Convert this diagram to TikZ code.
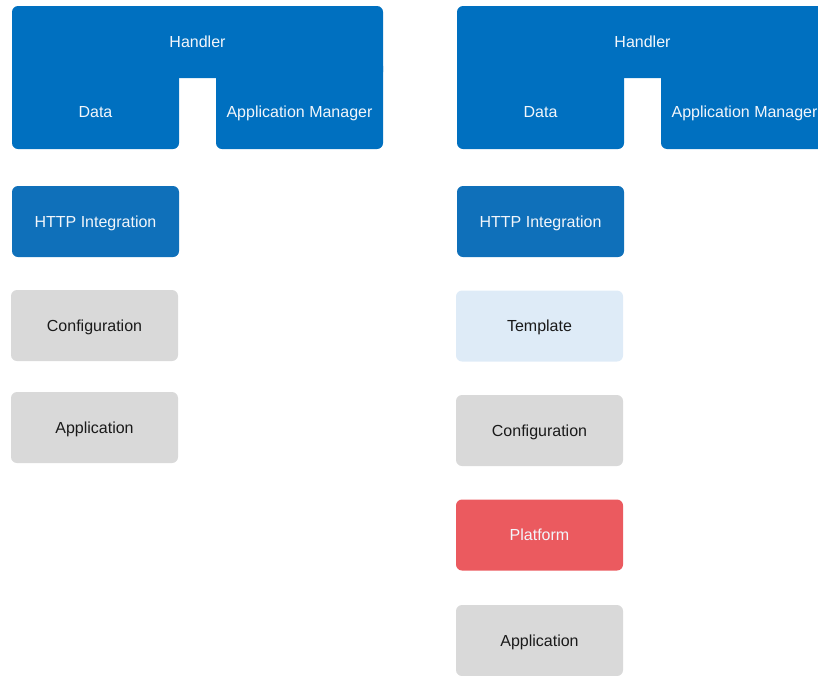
\documentclass[tikz,border=0pt]{standalone}
\usepackage{fontspec}
\setmainfont{Liberation Sans}
\definecolor{hblue}{HTML}{0070C0}
\definecolor{ibblue}{HTML}{0F70BA}
\definecolor{boxgray}{HTML}{D9D9D9}
\definecolor{tmpblue}{HTML}{DEEBF7}
\definecolor{platred}{HTML}{EB5A5F}
\definecolor{lighttxt}{HTML}{F2F6FB}
\definecolor{darktxt}{HTML}{1A1A1A}
\begin{document}
\begin{tikzpicture}[x=1pt,y=-1pt,
  every node/.style={font=\fontsize{16}{19}\selectfont, inner sep=0pt, text height=11.6pt, text depth=0pt},
  rc/.style={rounded corners=6pt},
  wtxt/.style={text=lighttxt},
  btxt/.style={text=darktxt},
  blk/.style={rectangle, rounded corners=6pt, minimum width=167pt, minimum height=71pt},
  bluebox/.style={blk, fill=ibblue, text=lighttxt},
  graybox/.style={blk, fill=boxgray, text=darktxt},
  tempbox/.style={blk, fill=tmpblue, text=darktxt},
  redbox/.style={blk, fill=platred, text=lighttxt}]
\useasboundingbox (0,0) rectangle (818,675);
\clip (0,0) rectangle (818,675);
% ---------- left handler group ----------
\fill[hblue, rc] (12,6) rectangle (383,78);
\fill[hblue, rc] (12,60) rectangle (179,149);
\fill[hblue, rc] (216,60) rectangle (383,149);
\node[wtxt] (lhandler) at (197.5,42) {Handler};
\node[wtxt] (ldata) at (95.5,112) {Data};
\node[wtxt] (lappmgr) at (299.5,112) {Application Manager};
% ---------- right handler group ----------
\fill[hblue, rc] (457,6) rectangle (828,78);
\fill[hblue, rc] (457,60) rectangle (624,149);
\fill[hblue, rc] (661,60) rectangle (828,149);
\node[wtxt] (rhandler) at (642.5,42) {Handler};
\node[wtxt] (rdata) at (540.5,112) {Data};
\node[wtxt] (rappmgr) at (744.5,112) {Application Manager};
% ---------- left column ----------
\node[bluebox] (lhttp) at (95.5,221.5) {HTTP Integration};
\node[graybox] (lconf) at (94.5,325.5) {Configuration};
\node[graybox] (lapp) at (94.5,427.5) {Application};
% ---------- right column ----------
\node[bluebox] (rhttp) at (540.5,221.5) {HTTP Integration};
\node[tempbox] (rtemp) at (539.5,326) {Template};
\node[graybox] (rconf) at (539.5,430.5) {Configuration};
\node[redbox] (rplat) at (539.5,535) {Platform};
\node[graybox] (rapp) at (539.5,640.5) {Application};
\end{tikzpicture}
\end{document}
